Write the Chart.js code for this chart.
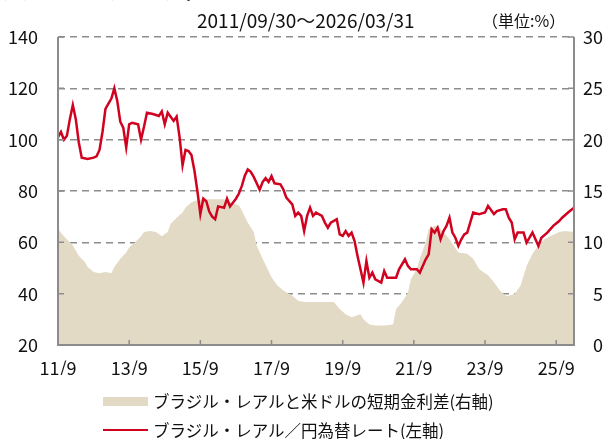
<!DOCTYPE html>
<html>
<head>
<meta charset="utf-8">
<script src="https://cdn.jsdelivr.net/npm/chart.js@4.4.1/dist/chart.umd.min.js"></script>
<style>
  html, body { margin: 0; padding: 0; background: #fff; }
  #wrap { position: relative; width: 612px; height: 439px; overflow: hidden; font-family: "Noto Sans CJK JP", "Noto Sans", sans-serif; color: #111; }
  #chart { position: absolute; left: 0; top: 0; }
  .txt { position: absolute; white-space: nowrap; line-height: 22px; }
  .swatch { position: absolute; }
</style>
</head>
<body>
<div id="wrap">
  <canvas id="chart" width="612" height="439"></canvas>
  <div class="txt" style="left:0;top:-20px;font-size:18px;font-weight:bold;">ブラジル・レアルのチャート</div>
  <div class="txt" id="period" style="left:197px;top:9px;font-size:19px;"></div>
  <div class="txt" style="left:482px;top:9px;font-size:16px;">（単位:%）</div>
  <div id="legend"></div>
</div>
<script>
// months since 2011/09/30
const xTickMonths = [0, 24, 48, 72, 96, 120, 144, 168];
const xTickLabels = ['11/9', '13/9', '15/9', '17/9', '19/9', '21/9', '23/9', '25/9'];
const periodLabel = '2011/09/30～2026/03/31';

// ブラジル・レアル/円為替レート (左軸)
const fxMonth = [0, 1, 2, 3, 4, 5, 6, 7, 8, 10, 12, 13, 14, 15, 16, 17, 18, 19, 20, 21, 22, 23, 24, 25, 27, 28, 29, 30, 32, 34, 35, 36, 37, 39, 40, 41, 42, 43, 44, 45, 46, 47, 48, 49, 50, 51, 52, 53, 54, 56, 57, 58, 60, 61, 62, 63, 64, 65, 66, 67, 68, 69, 70, 71, 72, 73, 75, 76, 77, 79, 80, 81, 82, 83, 84, 85, 86, 87, 89, 90, 91, 92, 94, 95, 96, 97, 98, 99, 100, 101, 102, 103, 104, 105, 106, 107, 109, 110, 111, 113, 114, 115, 117, 118, 119, 121, 122, 123, 124, 125, 126, 127, 128, 129, 130, 131, 132, 133, 134, 135, 136, 137, 138, 139, 140, 142, 144, 145, 147, 148, 150, 151, 152, 153, 154, 155, 157, 158, 159, 160, 161, 162, 163, 165, 167, 169, 170, 172, 174];
const fxValue = [101, 103, 100, 101.5, 108, 113.5, 108, 99, 93, 92.5, 93, 93.5, 96, 103, 112, 114, 116, 120, 115, 107, 104.7, 97, 106, 106.6, 106, 100, 105, 110.5, 110, 109.2, 111, 106, 110.5, 107.3, 109, 101, 90, 96, 95.6, 94, 88, 80, 71, 77, 76, 72, 70, 69, 74, 73.5, 77, 74, 77, 79, 82, 86, 88.4, 87.5, 85.5, 83, 80.5, 83.5, 85, 83.5, 85.8, 83, 82.6, 80.6, 77.4, 74.8, 70.3, 71.6, 70.3, 64.4, 70.3, 73.5, 70.3, 71.6, 70.3, 67.7, 65.7, 67.7, 69, 63.1, 62.5, 64.4, 62.5, 63.8, 60.5, 54.7, 49.5, 44.3, 52.7, 46.2, 48.2, 45.6, 44.3, 48.8, 46.2, 46.2, 46.2, 49.5, 53.4, 50.8, 49.5, 49.5, 48.2, 50.8, 53.4, 55.3, 65.1, 63.8, 65.7, 61.2, 64.4, 66.4, 69.6, 63.8, 61.8, 58.6, 61.2, 63.1, 63.8, 67.7, 71.6, 71, 71.6, 74.2, 71, 72.2, 72.9, 72.9, 69.6, 67.7, 61.2, 63.8, 63.8, 59.9, 61.8, 63.8, 61.2, 58.6, 61.8, 63.8, 66.4, 68.3, 69.6, 71.6, 73.5];

// ブラジル・レアルと米ドルの短期金利差 (右軸, %)
const spreadMonth = [0, 2, 5, 7, 9, 10, 12, 14, 16, 18, 19, 21, 23, 24, 26, 28, 29, 31, 33, 34, 35, 37, 38, 40, 42, 43, 45, 47, 49, 52, 54, 56, 58, 61, 62, 64, 66, 67, 69, 71, 72, 74, 76, 79, 81, 83, 86, 89, 91, 93, 95, 97, 99, 102, 103, 105, 107, 110, 113, 114, 116, 118, 119, 121, 122, 124, 125, 127, 128, 130, 132, 135, 138, 140, 142, 145, 147, 149, 151, 152, 154, 156, 158, 160, 162, 164, 166, 169, 171, 174];
const spreadValue = [11.3, 10.6, 9.7, 8.7, 8.1, 7.6, 7.1, 7.0, 7.1, 7.0, 7.6, 8.4, 9.0, 9.5, 10, 10.6, 11, 11.1, 11, 10.8, 10.6, 11, 11.8, 12.4, 12.9, 13.4, 13.9, 14.1, 14.2, 14.2, 14.2, 14.2, 13.9, 13.6, 13.1, 11.9, 11, 9.7, 8.4, 7.2, 6.6, 5.8, 5.3, 4.8, 4.3, 4.2, 4.2, 4.2, 4.2, 4.2, 3.5, 3.0, 2.7, 3.0, 2.5, 2.0, 1.9, 1.9, 2.0, 3.5, 4.2, 5.1, 6.4, 7.4, 8.4, 10, 11.3, 11.6, 11.6, 11, 10.3, 9.0, 8.9, 8.4, 7.4, 6.8, 6.1, 5.3, 4.8, 4.8, 5.0, 5.8, 7.7, 8.9, 9.7, 10.3, 10.6, 11, 11.1, 11];

const leftTicks = [20, 40, 60, 80, 100, 120, 140];
const rightTicks = [0, 5, 10, 15, 20, 25, 30];

const seriesNames = ['ブラジル・レアルと米ドルの短期金利差(右軸)', 'ブラジル・レアル／円為替レート(左軸)'];
const RED = '#d0021f';
const TAN = '#e3dac6';
const GRAY = '#8c8c8c';

document.getElementById('period').textContent = periodLabel;

// tick marks and frame drawn above the filled area
const framePlugin = {
  id: 'frame',
  afterDatasetsDraw(chart) {
    const { ctx, chartArea: a, scales } = chart;
    ctx.save();
    ctx.strokeStyle = GRAY;
    ctx.lineWidth = 1.5;
    ctx.beginPath();
    xTickMonths.forEach(m => {
      const px = scales.x.getPixelForValue(m);
      if (px > a.left + 2) {
        ctx.moveTo(px, a.bottom);
        ctx.lineTo(px, a.bottom - 5);
      }
    });
    leftTicks.forEach(v => {
      const py = scales.y.getPixelForValue(v);
      ctx.moveTo(a.left, py);
      ctx.lineTo(a.left + 6, py);
    });
    rightTicks.forEach(v => {
      const py = scales.y1.getPixelForValue(v);
      ctx.moveTo(a.right, py);
      ctx.lineTo(a.right - 6, py);
    });
    ctx.stroke();
    ctx.lineWidth = 2;
    ctx.beginPath();
    ctx.moveTo(a.left, a.top);
    ctx.lineTo(a.left, a.bottom);
    ctx.lineTo(a.right, a.bottom);
    ctx.lineTo(a.right, a.top);
    ctx.stroke();
    ctx.restore();
  }
};

const ctx = document.getElementById('chart').getContext('2d');
Chart.defaults.font.family = '"Noto Sans CJK JP", "Noto Sans", sans-serif';
Chart.defaults.color = '#111';

new Chart(ctx, {
  type: 'line',
  data: {
    datasets: [{
      label: seriesNames[1],
      data: fxMonth.map((m, i) => ({ x: m, y: fxValue[i] })),
      yAxisID: 'y',
      borderColor: RED,
      borderWidth: 2.5,
      pointRadius: 0,
      tension: 0,
      fill: false,
      order: 1
    }, {
      label: seriesNames[0],
      data: spreadMonth.map((m, i) => ({ x: m, y: spreadValue[i] })),
      yAxisID: 'y1',
      borderWidth: 0,
      borderColor: TAN,
      backgroundColor: TAN,
      pointRadius: 0,
      tension: 0,
      fill: 'origin',
      order: 2
    }]
  },
  options: {
    responsive: false,
    animation: false,
    layout: { padding: { top: 37, right: 9, bottom: 64, left: 0 } },
    plugins: {
      legend: { display: false },
      tooltip: { enabled: false }
    },
    scales: {
      x: {
        type: 'linear',
        min: 0,
        max: 174,
        afterBuildTicks: scale => { scale.ticks = xTickMonths.map(v => ({ value: v })); },
        afterFit: scale => { scale.height = 30; },
        ticks: {
          font: { size: 18 },
          padding: 12,
          maxRotation: 0,
          autoSkip: false,
          callback: (v) => xTickLabels[xTickMonths.indexOf(v)]
        },
        grid: { display: false, drawTicks: false },
        border: { display: false }
      },
      y: {
        position: 'left',
        min: 20,
        max: 140,
        afterBuildTicks: scale => { scale.ticks = leftTicks.map(v => ({ value: v })); },
        afterFit: scale => { scale.width = 58; },
        ticks: { font: { size: 18 }, padding: 20 },
        grid: { color: GRAY, lineWidth: 1.5, drawTicks: false },
        border: { display: false, dash: [7, 5] }
      },
      y1: {
        position: 'right',
        min: 0,
        max: 30,
        afterBuildTicks: scale => { scale.ticks = rightTicks.map(v => ({ value: v })); },
        afterFit: scale => { scale.width = 29; },
        ticks: { font: { size: 18 }, crossAlign: 'far', padding: 0 },
        grid: { display: false, drawTicks: false },
        border: { display: false }
      }
    }
  },
  plugins: [framePlugin]
});

// legend
const legend = document.getElementById('legend');
legend.innerHTML = `
  <div class="swatch" style="left:103px;top:397px;width:45px;height:9px;background:${TAN};"></div>
  <div class="txt" style="left:153px;top:390px;font-size:16.5px;">${seriesNames[0]}</div>
  <div class="swatch" style="left:103px;top:429px;width:45px;height:1.5px;background:${RED};"></div>
  <div class="txt" style="left:153px;top:419px;font-size:16.5px;">${seriesNames[1]}</div>
`;
</script>
</body>
</html>
